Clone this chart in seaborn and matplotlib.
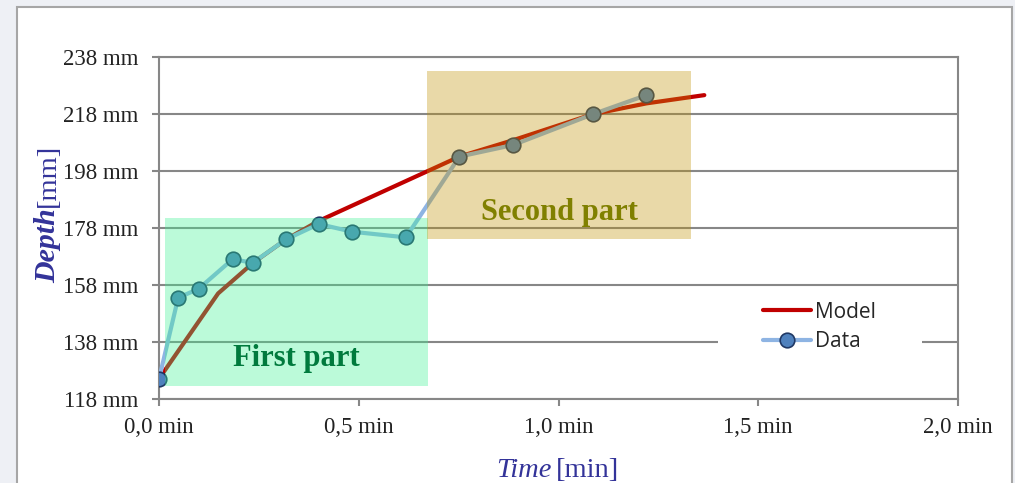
import matplotlib
matplotlib.use("Agg")
import matplotlib.pyplot as plt
from matplotlib.patches import Rectangle
import seaborn as sns

# ---------------- data ----------------
data_time = [0.0, 0.048, 0.099, 0.184, 0.235, 0.318, 0.400, 0.483, 0.618, 0.752, 0.887, 1.086, 1.220]
data_depth = [124.9, 153.5, 156.6, 167.0, 165.8, 174.0, 179.4, 176.7, 174.7, 203.1, 207.2, 218.0, 224.7]

model_time = [0.0, 0.148, 0.235, 0.318, 0.400, 0.752, 0.887, 1.086, 1.220, 1.365]
model_depth = [125.0, 155.0, 165.7, 174.0, 180.5, 203.1, 208.9, 218.0, 221.8, 224.7]

x_ticks = [0.0, 0.5, 1.0, 1.5, 2.0]
x_tick_labels = ["0,0 min", "0,5 min", "1,0 min", "1,5 min", "2,0 min"]
y_ticks = [118, 138, 158, 178, 198, 218, 238]
y_tick_labels = ["118 mm", "138 mm", "158 mm", "178 mm", "198 mm", "218 mm", "238 mm"]

# shaded regions: (t_start, t_end, depth_low, depth_high)
first_part = (0.014, 0.674, 122.5, 181.4)
second_part = (0.672, 1.332, 174.2, 233.2)
first_label = ("First part", 0.344, 132.3)
second_label = ("Second part", 1.002, 183.6)

# ---------------- style ----------------
sns.set_style("white")
plt.rcParams["font.family"] = ["Liberation Serif", "DejaVu Serif"]

W, H = 1015, 483
fig = plt.figure(figsize=(W / 100, H / 100), dpi=100, facecolor="#EEF0F5")

# white chart panel with grey border
fig.patches.append(Rectangle((17 / W, -0.05), (1012 - 17) / W, (483 - 7) / H + 0.05,
                             transform=fig.transFigure, facecolor="white",
                             edgecolor="#A6A6A6", linewidth=1.5, zorder=-10))

ax = fig.add_axes([159 / W, 1 - 398.7 / H, (958 - 159) / W, (398.7 - 57.3) / H])
ax.set_facecolor("white")

grey = "#878787"
sns.lineplot(x=model_time, y=model_depth, ax=ax, color="#C00000", linewidth=3,
             sort=False, legend=False, zorder=3)
sns.lineplot(x=data_time, y=data_depth, ax=ax, color="#8EB4E3", linewidth=3,
             marker="o", markersize=10.5, markerfacecolor="#4F81BD",
             markeredgecolor="#1F3864", markeredgewidth=1.2,
             sort=False, legend=False, zorder=3)
l_model, l_data = ax.lines[0], ax.lines[1]

# shaded parts drawn on top (semi-transparent)
t0, t1, d0, d1 = first_part
ax.add_patch(Rectangle((t0, d0), t1 - t0, d1 - d0, facecolor=(61 / 255, 241 / 255, 146 / 255),
                       alpha=0.35, linewidth=0, zorder=4))
t0, t1, d0, d1 = second_part
ax.add_patch(Rectangle((t0, d0), t1 - t0, d1 - d0, facecolor=(192 / 255, 146 / 255, 6 / 255),
                       alpha=0.35, linewidth=0, zorder=4))

ax.text(first_label[1], first_label[2], first_label[0], ha="center", va="center",
        color="#007A3D", fontsize=22, fontweight="bold", zorder=5)
ax.text(second_label[1], second_label[2], second_label[0], ha="center", va="center",
        color="#808000", fontsize=22, fontweight="bold", zorder=5)

ax.set_xlim(0, 2.0)
ax.set_ylim(118, 238)
ax.set_xticks(x_ticks)
ax.set_xticklabels(x_tick_labels)
ax.set_yticks(y_ticks)
ax.set_yticklabels(y_tick_labels)
ax.set_xlabel("")
ax.set_ylabel("")

ax.yaxis.grid(True, color=grey, linewidth=1.5, zorder=0.5)
ax.xaxis.grid(False)
ax.set_axisbelow(True)
for s in ax.spines.values():
    s.set_color(grey)
    s.set_linewidth(1.5)
ax.tick_params(axis="both", direction="out", length=5, width=1.5, color=grey,
               labelsize=16.5, labelcolor="#222222")
ax.tick_params(axis="x", pad=8)
ax.tick_params(axis="y", pad=10)
ax.tick_params(left=True, bottom=True)

# legend with white background block
ax.add_patch(Rectangle((0.6996, 0.12), 0.2557, 0.19, transform=ax.transAxes,
                       facecolor="white", edgecolor="none", zorder=5))
leg = ax.legend(handles=[l_model, l_data], labels=["Model", "Data"],
                loc="center left", bbox_to_anchor=(0.756, 0.2105), frameon=False,
                borderpad=0, borderaxespad=0, handlelength=2.3, handletextpad=0.2,
                labelspacing=0.4, prop={"family": "Open Sans", "size": 15})
leg.set_zorder(6)

# axis titles (mixed styles)
navy = "#333399"
fig.text(55 / W, 1 - 208 / H, "Depth", rotation=90, rotation_mode="anchor",
         ha="right", va="baseline", color=navy, fontsize=21.5,
         fontweight="bold", fontstyle="italic")
fig.text(55 / W, 1 - 207 / H, "[mm]", rotation=90, rotation_mode="anchor",
         ha="left", va="baseline", color=navy, fontsize=20.5)
fig.text(552 / W, 1 - 477 / H, "Time", ha="right", va="baseline", color=navy,
         fontsize=20.5, fontstyle="italic")
fig.text(556 / W, 1 - 477 / H, "[min]", ha="left", va="baseline", color=navy,
         fontsize=20.5)

fig.savefig("out.png", dpi=100, facecolor=fig.get_facecolor())
